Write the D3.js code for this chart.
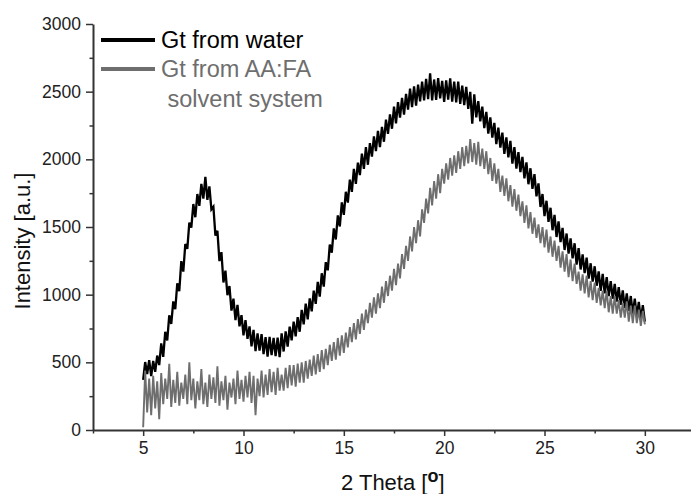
<!DOCTYPE html>
<html lang="en">
<head>
  <meta charset="UTF-8">
  <title>XRD patterns</title>
  <style>
      body { margin: 0; background: #fff; }
      svg { display: block; font-family: "Liberation Sans", Arial, sans-serif; }
      .axis path, .axis line { stroke: #333; }
      .axis text { fill: #222; font-size: 17.5px; }
      .trace { fill: none; stroke-linejoin: miter; }
  </style>
</head>
<body>
<div id="chart"></div>
<script src="https://d3js.org/d3.v7.min.js"></script>
<script>
  // 2 theta grid of the scans, 5 to 30 deg, 0.1 deg step
  const thetaStart = 5, thetaStep = 0.1;

  // Gt from water (black)
  const water = [
    370, 502, 414, 516, 398, 510, 430, 550, 480, 640,
    540, 726, 662, 848, 784, 950, 892, 1084, 1026, 1248,
    1170, 1374, 1338, 1532, 1496, 1670, 1572, 1744, 1656, 1818,
    1710, 1870, 1700, 1800, 1630, 1650, 1436, 1472, 1248, 1314,
    1090, 1178, 996, 1064, 882, 970, 812, 924, 766, 848,
    700, 812, 674, 766, 618, 740, 582, 714, 586, 708,
    560, 686, 542, 688, 554, 680, 546, 682, 538, 714,
    580, 728, 616, 764, 662, 800, 692, 834, 726, 888,
    780, 934, 818, 972, 876, 1030, 932, 1094, 986, 1158,
    1060, 1240, 1180, 1370, 1310, 1490, 1408, 1586, 1504, 1682,
    1590, 1760, 1680, 1850, 1760, 1930, 1818, 1976, 1884, 2042,
    1930, 2090, 1960, 2120, 2020, 2170, 2060, 2210, 2090, 2240,
    2130, 2294, 2188, 2332, 2226, 2390, 2266, 2422, 2308, 2454,
    2330, 2484, 2368, 2522, 2386, 2540, 2396, 2552, 2428, 2574,
    2435, 2595, 2445, 2635, 2435, 2590, 2440, 2600, 2450, 2580,
    2425, 2583, 2441, 2599, 2427, 2575, 2420, 2575, 2410, 2545,
    2400, 2536, 2372, 2498, 2264, 2480, 2310, 2430, 2280, 2390,
    2230, 2350, 2190, 2310, 2160, 2270, 2112, 2234, 2086, 2198,
    2040, 2162, 2014, 2136, 1968, 2090, 1932, 2054, 1906, 2018,
    1860, 1978, 1816, 1934, 1782, 1890, 1726, 1822, 1648, 1744,
    1580, 1694, 1538, 1642, 1476, 1590, 1426, 1542, 1388, 1494,
    1330, 1452, 1304, 1416, 1268, 1380, 1222, 1344, 1186, 1298,
    1160, 1274, 1118, 1232, 1096, 1210, 1066, 1172, 1028, 1154,
    1010, 1130, 990, 1100, 970, 1080, 948, 1056, 924, 1032,
    900, 1010, 880, 990, 860, 970, 838, 946, 814, 922,
    800
  ];

  // Gt from AA:FA solvent system (grey)
  const solvent = [
    20, 440, 130, 380, 110, 400, 160, 360, 80, 420,
    190, 380, 230, 490, 170, 370, 200, 430, 180, 350,
    230, 410, 190, 500, 220, 380, 160, 360, 220, 450,
    190, 350, 170, 410, 230, 390, 200, 470, 180, 360,
    220, 400, 150, 350, 240, 380, 190, 440, 230, 370,
    210, 400, 240, 430, 200, 400, 110, 380, 250, 440,
    240, 410, 260, 450, 280, 430, 260, 460, 290, 410,
    290, 460, 310, 480, 330, 480, 320, 490, 350, 500,
    350, 510, 380, 520, 400, 550, 410, 560, 430, 590,
    450, 600, 480, 630, 510, 650, 520, 680, 550, 700,
    570, 720, 610, 760, 650, 790, 670, 820, 710, 860,
    740, 890, 790, 940, 830, 980, 860, 1010, 900, 1060,
    940, 1100, 990, 1140, 1030, 1190, 1070, 1230, 1120, 1300,
    1190, 1360, 1250, 1430, 1320, 1500, 1380, 1550, 1430, 1630,
    1530, 1710, 1600, 1790, 1660, 1840, 1710, 1890, 1750, 1930,
    1820, 1970, 1850, 2010, 1880, 2030, 1900, 2060, 1930, 2090,
    1950, 2100, 1970, 2150, 1980, 2120, 1960, 2130, 1950, 2080,
    1930, 2060, 1890, 2010, 1840, 1970, 1820, 1930, 1760, 1880,
    1730, 1860, 1690, 1810, 1650, 1780, 1620, 1740, 1580, 1690,
    1530, 1660, 1490, 1610, 1450, 1570, 1420, 1520, 1380, 1500,
    1350, 1480, 1310, 1430, 1280, 1400, 1250, 1360, 1200, 1320,
    1170, 1300, 1130, 1260, 1100, 1230, 1080, 1170, 1030, 1150,
    1010, 1140, 980, 1100, 960, 1090, 940, 1050, 920, 1030,
    900, 1030, 870, 990, 860, 990, 860, 960, 830, 940,
    830, 950, 800, 920, 790, 920, 790, 890, 770, 880,
    780
  ];

  const seriesNames = ["Gt from water", "Gt from AA:FA", " solvent system"];
  const xMajor = [5, 10, 15, 20, 25, 30];
  const xMinor = [2.5, 7.5, 12.5, 17.5, 22.5, 27.5, 32.5];
  const yMajor = [0, 500, 1000, 1500, 2000, 2500, 3000];
  const yMinor = [250, 750, 1250, 1750, 2250, 2750];

  const W = 691, H = 494;
  const padLeft = 93, padBottom = 430, padTop = 24;

  const svg = d3.select("#chart").append("svg")
    .attr("width", W)
    .attr("height", H);

  const x = d3.scaleLinear().domain([2.5, 32.5]).range([padLeft, padLeft + 602]);
  const y = d3.scaleLinear().domain([0, 3000]).range([padBottom, padTop]);

  // minor ticks first, majors drawn on top
  svg.append("g")
    .attr("class", "axis")
    .attr("transform", `translate(0,${padBottom})`)
    .call(d3.axisBottom(x).tickValues(xMinor).tickSize(3.5).tickFormat(""))
    .call(g => g.select(".domain").remove())
    .selectAll("line").attr("stroke-width", 1.5);

  svg.append("g")
    .attr("class", "axis")
    .attr("transform", `translate(${padLeft},0)`)
    .call(d3.axisLeft(y).tickValues(yMinor).tickSize(3.5).tickFormat(""))
    .call(g => g.select(".domain").remove())
    .selectAll("line").attr("stroke-width", 1.5);

  const xAxis = svg.append("g")
    .attr("class", "axis")
    .attr("transform", `translate(0,${padBottom})`)
    .call(d3.axisBottom(x).tickValues(xMajor).tickFormat(d3.format("d"))
      .tickSize(6).tickPadding(6).tickSizeOuter(0));
  xAxis.select(".domain").attr("stroke-width", 2);
  xAxis.selectAll("line").attr("stroke-width", 1.5);

  const yAxis = svg.append("g")
    .attr("class", "axis")
    .attr("transform", `translate(${padLeft},0)`)
    .call(d3.axisLeft(y).tickValues(yMajor).tickFormat(d3.format("d"))
      .tickSize(7).tickPadding(5).tickSizeOuter(0));
  yAxis.select(".domain").attr("stroke-width", 2);
  yAxis.selectAll("line").attr("stroke-width", 1.5);

  const line = d3.line()
    .x((d, i) => x(thetaStart + i * thetaStep))
    .y(d => y(d));

  svg.append("path")
    .datum(water)
    .attr("class", "trace")
    .attr("stroke", "#000")
    .attr("stroke-width", 2.3)
    .attr("d", line);

  svg.append("path")
    .datum(solvent)
    .attr("class", "trace")
    .attr("stroke", "#6e6e6e")
    .attr("stroke-width", 1.9)
    .attr("d", line);

  // legend
  const legend = svg.append("g");
  legend.append("line")
    .attr("x1", 101).attr("x2", 155).attr("y1", 40).attr("y2", 40)
    .attr("stroke", "#000").attr("stroke-width", 4);
  legend.append("text")
    .attr("x", 161).attr("y", 48)
    .style("font-size", "23.5px")
    .attr("fill", "#000")
    .text(seriesNames[0]);
  legend.append("line")
    .attr("x1", 101).attr("x2", 155).attr("y1", 69).attr("y2", 69)
    .attr("stroke", "#6e6e6e").attr("stroke-width", 4);
  legend.append("text")
    .attr("x", 161).attr("y", 77)
    .style("font-size", "23.5px")
    .attr("fill", "#6e6e6e")
    .text(seriesNames[1]);
  legend.append("text")
    .attr("x", 161).attr("y", 107)
    .style("font-size", "23.5px")
    .attr("fill", "#6e6e6e")
    .attr("xml:space", "preserve")
    .style("white-space", "pre")
    .text(seriesNames[2]);

  // axis titles
  svg.append("text")
    .attr("transform", "translate(30,241) rotate(-90)")
    .attr("text-anchor", "middle")
    .style("font-size", "22px")
    .attr("fill", "#111")
    .text("Intensity [a.u.]");

  const xt = svg.append("text")
    .attr("x", 341)
    .attr("y", 490)
    .style("font-size", "22px")
    .attr("fill", "#111");
  xt.append("tspan").text("2 Theta [");
  xt.append("tspan").attr("dy", -8).style("font-size", "18px").style("font-weight", "bold").text("o");
  xt.append("tspan").attr("dy", 8).text("]");
</script>
</body>
</html>
